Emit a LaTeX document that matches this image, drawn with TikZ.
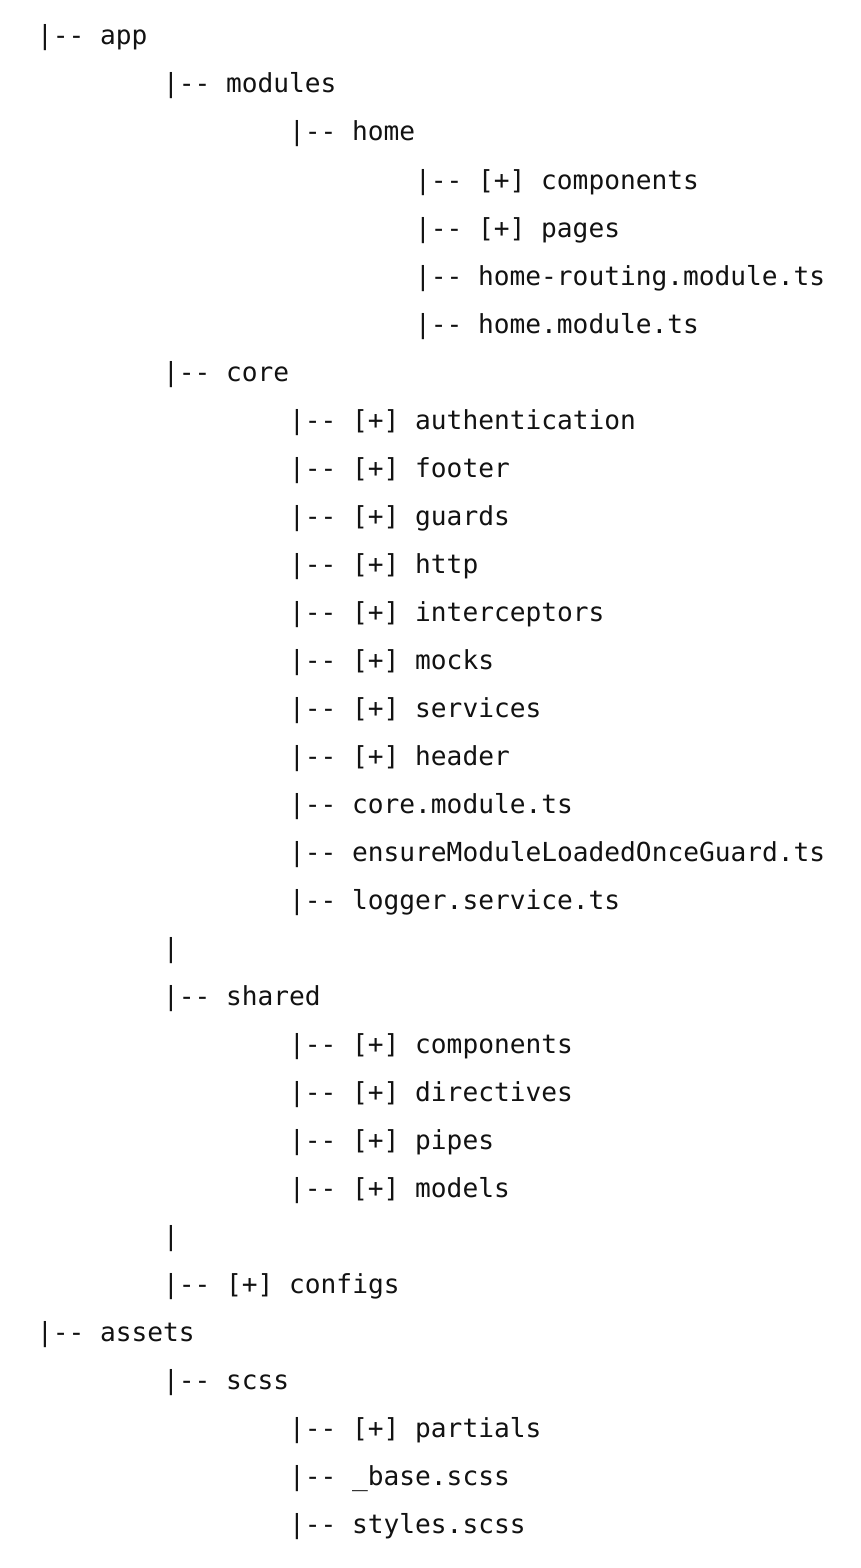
\documentclass[tikz,border=0pt]{standalone}
\usepackage{fontspec}
\setmonofont{DejaVu Sans Mono}
\begin{document}
\begin{tikzpicture}[x=1pt,y=-1pt,
  entry/.style={anchor=base west, inner sep=0pt, outer sep=0pt,
    font=\ttfamily\fontsize{26.2}{48}\selectfont, text=black!93}]
\fill[white] (0,0) rectangle (860,1568);
\useasboundingbox (0,0) rectangle (860,1568);
% indentation levels (8 columns each) and baseline spacing
\def\la{37}\def\lb{163}\def\lc{289}\def\ld{415}
\node[entry] (app)        at (\la,  45) {|-- app};
\node[entry] (modules)    at (\lb,  93) {|-- modules};
\node[entry] (home)       at (\lc, 141) {|-- home};
\node[entry] (homecomp)   at (\ld, 189) {|-- [+] components};
\node[entry] (homepages)  at (\ld, 237) {|-- [+] pages};
\node[entry] (homerout)   at (\ld, 285) {|-- home-routing.module.ts};
\node[entry] (homemod)    at (\ld, 333) {|-- home.module.ts};
\node[entry] (core)       at (\lb, 381) {|-- core};
\node[entry] (auth)       at (\lc, 429) {|-- [+] authentication};
\node[entry] (footer)     at (\lc, 477) {|-- [+] footer};
\node[entry] (guards)     at (\lc, 525) {|-- [+] guards};
\node[entry] (http)       at (\lc, 573) {|-- [+] http};
\node[entry] (intercept)  at (\lc, 621) {|-- [+] interceptors};
\node[entry] (mocks)      at (\lc, 669) {|-- [+] mocks};
\node[entry] (services)   at (\lc, 717) {|-- [+] services};
\node[entry] (header)     at (\lc, 765) {|-- [+] header};
\node[entry] (coremod)    at (\lc, 813) {|-- core.module.ts};
\node[entry] (ensure)     at (\lc, 861) {|-- ensureModuleLoadedOnceGuard.ts};
\node[entry] (logger)     at (\lc, 909) {|-- logger.service.ts};
\node[entry] (gapa)       at (\lb, 957) {|};
\node[entry] (shared)     at (\lb,1005) {|-- shared};
\node[entry] (shcomp)     at (\lc,1053) {|-- [+] components};
\node[entry] (shdir)      at (\lc,1101) {|-- [+] directives};
\node[entry] (shpipes)    at (\lc,1149) {|-- [+] pipes};
\node[entry] (shmodels)   at (\lc,1197) {|-- [+] models};
\node[entry] (gapb)       at (\lb,1245) {|};
\node[entry] (configs)    at (\lb,1293) {|-- [+] configs};
\node[entry] (assets)     at (\la,1341) {|-- assets};
\node[entry] (scss)       at (\lb,1389) {|-- scss};
\node[entry] (partials)   at (\lc,1437) {|-- [+] partials};
\node[entry] (base)       at (\lc,1485) {|-- \_base.scss};
\node[entry] (styles)     at (\lc,1533) {|-- styles.scss};
\end{tikzpicture}
\end{document}
